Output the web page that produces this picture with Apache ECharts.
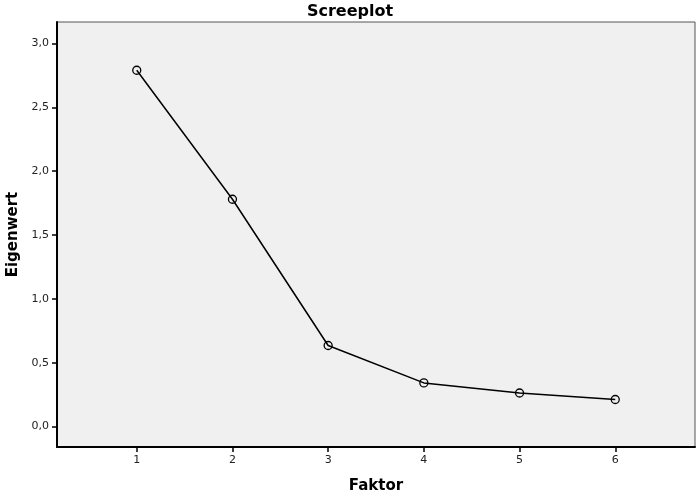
<!DOCTYPE html>
<html>
<head>
<meta charset="utf-8">
<script src="https://cdn.jsdelivr.net/npm/echarts@6/dist/echarts.min.js"></script>
<style>
html, body { margin: 0; padding: 0; background: #fff; }
#main { width: 700px; height: 495px; }
</style>
</head>
<body>
<div id="main"></div>
<script>
// Faktor numbers and their eigenvalues
var faktoren = [1, 2, 3, 4, 5, 6];
var eigenwerte = [2.79, 1.78, 0.635, 0.342, 0.263, 0.212];
var yTicks = [0, 0.5, 1.0, 1.5, 2.0, 2.5, 3.0];

var points = faktoren.map(function (f, i) { return [f, eigenwerte[i]]; });

var myChart = echarts.init(document.getElementById('main'));

var option = {
    backgroundColor: '#ffffff',
    animation: false,
    title: {
        text: 'Screeplot',
        left: 'center',
        top: -1,
        textStyle: { fontFamily: 'DejaVu Sans', fontWeight: 'bold', fontSize: 16, color: '#000' }
    },
    grid: {
        left: 57, right: 5, top: 22, bottom: 48,
        outerBoundsMode: 'none',
        containLabel: false,
        show: true,
        backgroundColor: '#f0f0f0',
        borderColor: '#555',
        borderWidth: 1
    },
    xAxis: {
        type: 'value',
        min: 1 / 6,
        max: 6 + 5 / 6,
        name: 'Faktor',
        nameLocation: 'middle',
        nameGap: 32,
        nameTextStyle: { fontFamily: 'DejaVu Sans', fontWeight: 'bold', fontSize: 15, color: '#000' },
        splitLine: { show: false },
        axisLine: { show: true, onZero: false, lineStyle: { color: '#000', width: 2 } },
        axisTick: { show: true, length: 5, customValues: faktoren, lineStyle: { color: '#000', width: 1.5 } },
        axisLabel: {
            customValues: faktoren,
            margin: 8,
            fontFamily: 'DejaVu Sans', fontSize: 11, color: '#222'
        }
    },
    yAxis: {
        type: 'value',
        min: -0.16,
        max: 3.168,
        name: 'Eigenwert',
        nameLocation: 'middle',
        nameGap: 36,
        nameTextStyle: { fontFamily: 'DejaVu Sans', fontWeight: 'bold', fontSize: 15, color: '#000' },
        splitLine: { show: false },
        axisLine: { show: true, onZero: false, lineStyle: { color: '#000', width: 2 } },
        axisTick: { show: true, length: 5, customValues: yTicks, lineStyle: { color: '#000', width: 1.5 } },
        axisLabel: {
            customValues: yTicks,
            margin: 8,
            fontFamily: 'DejaVu Sans', fontSize: 11, color: '#222',
            formatter: function (v) { return v.toFixed(1).replace('.', ','); }
        }
    },
    series: [
        {
            type: 'line',
            data: points,
            symbol: 'circle',
            symbolSize: 8,
            itemStyle: { color: 'transparent', borderColor: '#000', borderWidth: 1.3 },
            lineStyle: { color: '#000', width: 1.5 }
        }
    ]
};

myChart.setOption(option);
</script>
</body>
</html>
